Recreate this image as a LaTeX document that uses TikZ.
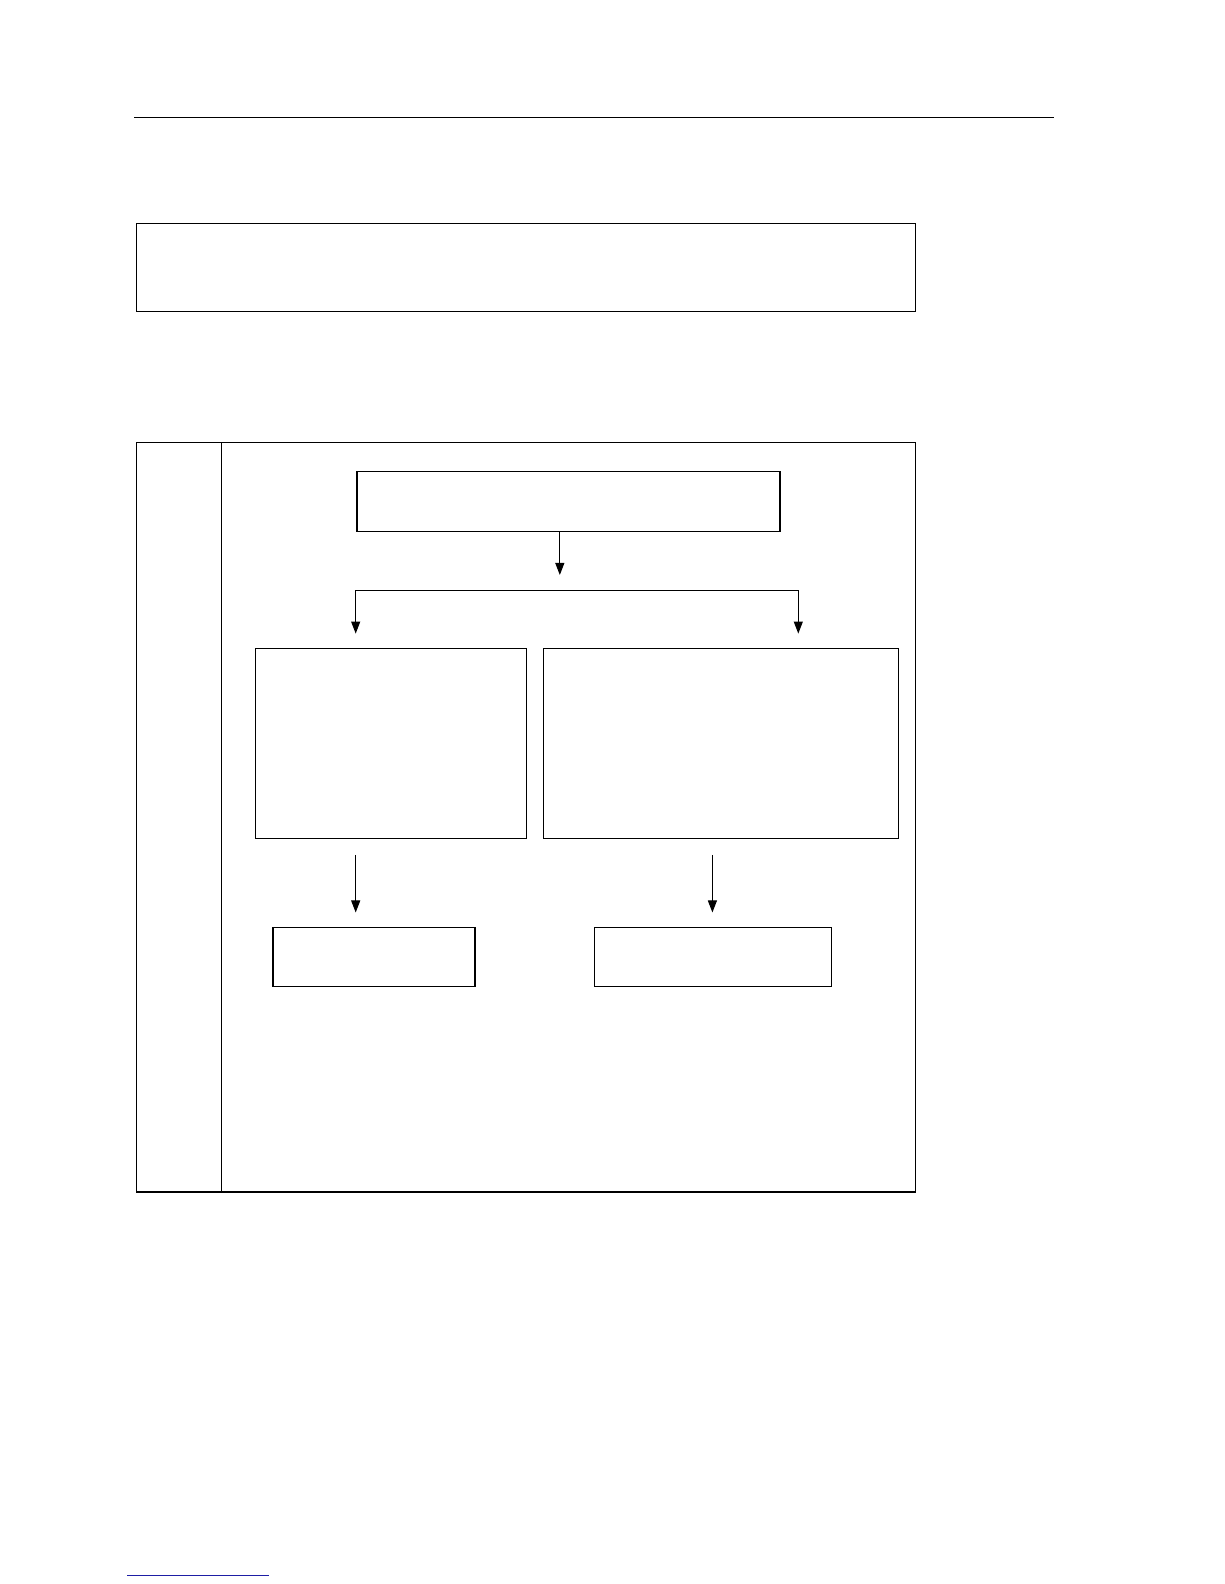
\documentclass[tikz,border=0pt]{standalone}
\usetikzlibrary{arrows.meta}

\tikzset{
    box/.style={draw, line width=1.4pt, inner sep=0pt, outer sep=0pt},
    flow/.style={-{Triangle[length=12pt, width=9pt]}, line width=1pt},
}

\begin{document}
\begin{tikzpicture}[x=1.0105pt, y=-1.0105pt]
    \useasboundingbox (0pt, 0pt) rectangle (1224pt, -1584pt);
    % page rule and note
    \draw[line width=1pt] (133, 116) -- (1043, 116);
    \node[box, minimum width=779pt, minimum height=88pt] (note) at (520.5, 264.5) {};
    % frame
    \draw[line width=1pt] (135, 438) rectangle (906, 1180);
    \draw[line width=2pt] (135, 1180) -- (906, 1180);
    \draw[line width=1pt] (219, 438) -- (219, 1180);
    % boxes
    \node[box, minimum width=423pt, minimum height=60pt] (start) at (562.5, 496.5) {};
    \node[box, minimum width=271pt, minimum height=190pt] (left) at (387, 736) {};
    \node[box, minimum width=355pt, minimum height=190pt] (right) at (713.5, 736) {};
    \node[box, minimum width=202pt, minimum height=59pt] (leftend) at (370, 947) {};
    \node[box, minimum width=237pt, minimum height=59pt] (rightend) at (705.5, 947) {};
    % connectors
    \coordinate (split) at (554, 569);
    \coordinate (bl) at (352, 584);
    \coordinate (br) at (790, 584);
    \coordinate (lin) at (352, 627);
    \coordinate (rin) at (790, 627);
    \coordinate (lout) at (352, 846);
    \coordinate (lend) at (352, 903);
    \coordinate (rout) at (705, 846);
    \coordinate (rend) at (705, 903);
    \draw[flow] (start.south -| split) -- (split);
    \draw[line width=1pt] (bl) -- (br);
    \draw[flow] (bl) -- (lin);
    \draw[flow] (br) -- (rin);
    \draw[flow] (lout) -- (lend);
    \draw[flow] (rout) -- (rend);
    % link rule
    \draw[line width=1.2pt, color={rgb,255:red,30;green,30;blue,165}] (126, 1559) -- (266, 1559);
\end{tikzpicture}
\end{document}
